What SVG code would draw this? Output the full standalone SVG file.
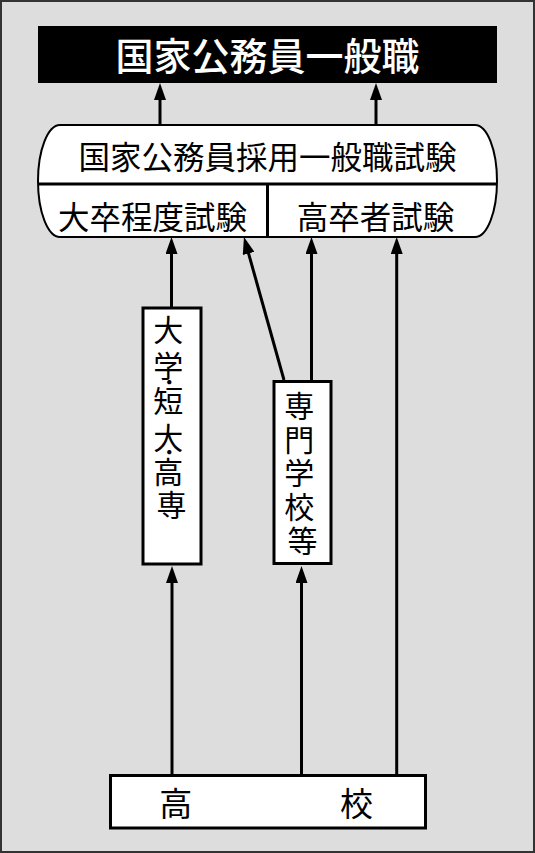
<svg xmlns="http://www.w3.org/2000/svg" width="535" height="853" viewBox="0 0 535 853">
  <style>
    .lbl { font-family: "Noto Sans CJK JP", "Noto Sans CJK SC", sans-serif; fill: #000; text-anchor: middle; }
    .box { fill: #fff; stroke: #000; stroke-width: 3; }
    .edge { stroke: #000; stroke-width: 3; fill: none; marker-end: url(#arrow); }
    .plain { stroke: #000; stroke-width: 3; fill: none; }
  </style>
  <defs>
    <marker id="arrow" markerUnits="userSpaceOnUse" markerWidth="17" markerHeight="12" refX="8" refY="6" orient="auto" viewBox="0 0 17 12">
      <path d="M0,0 L17,6 L0,12 Z" fill="#000"/>
    </marker>
  </defs>
  <rect x="1" y="1" width="533" height="851" fill="#dcdddc" stroke="#333" stroke-width="2"/>

  <g id="connectors">
    <line class="edge" x1="160" y1="125" x2="160" y2="92"/>
    <line class="edge" x1="376" y1="125" x2="376" y2="92"/>
    <line class="edge" x1="171.5" y1="307" x2="171.5" y2="246"/>
    <line class="edge" x1="284" y1="380" x2="246.4" y2="245.7"/>
    <line class="edge" x1="311.5" y1="380" x2="311.5" y2="246"/>
    <line class="edge" x1="396.7" y1="775" x2="396.7" y2="246"/>
    <line class="edge" x1="172" y1="775" x2="172" y2="575"/>
    <line class="edge" x1="301.5" y1="775" x2="301.5" y2="575"/>
  </g>

  <g id="title">
    <rect x="38" y="26" width="459" height="57" fill="#000"/>
    <text class="lbl" x="267.5" y="69.5" font-size="38" font-weight="500" style="fill:#fff">国家公務員一般職</text>
  </g>

  <g id="exam">
    <path d="M60,125 H475 A22,56 0 0 1 475,237 H60 A22,56 0 0 1 60,125 Z" fill="#fff" stroke="#000" stroke-width="2"/>
    <line class="plain" x1="38" y1="184" x2="497" y2="184" stroke-width="2"/>
    <line class="plain" x1="267.5" y1="184" x2="267.5" y2="237" stroke-width="2"/>
    <text class="lbl" x="267.5" y="169" font-size="31.5">国家公務員採用一般職試験</text>
    <text class="lbl" x="152.5" y="229" font-size="31.5">大卒程度試験</text>
    <text class="lbl" x="375.5" y="229" font-size="31.5">高卒者試験</text>
  </g>

  <g id="univ">
    <rect class="box" x="143" y="308" width="58" height="256"/>
    <text class="lbl" font-size="30">
      <tspan x="171.5" y="341.4">大</tspan>
      <tspan x="171.5" y="377.4">学</tspan>
      <tspan x="172.5" y="389.6" font-size="20">・</tspan>
      <tspan x="171.5" y="412.4">短</tspan>
      <tspan x="171.5" y="449.4">大</tspan>
      <tspan x="172.5" y="459.6" font-size="20">・</tspan>
      <tspan x="171.5" y="483.4">高</tspan>
      <tspan x="171.5" y="516.4">専</tspan>
    </text>
  </g>

  <g id="senmon">
    <rect class="box" x="274" y="381.5" width="57" height="182"/>
    <text class="lbl" font-size="30">
      <tspan x="302.5" y="417.4">専</tspan>
      <tspan x="302.5" y="451.4">門</tspan>
      <tspan x="302.5" y="484.4">学</tspan>
      <tspan x="302.5" y="518.4">校</tspan>
      <tspan x="302.5" y="552.4">等</tspan>
    </text>
  </g>

  <g id="koukou">
    <rect class="box" x="110.5" y="775.5" width="315" height="52.5"/>
    <text class="lbl" font-size="33">
      <tspan x="179.5" y="815.5">高</tspan>
      <tspan x="356.5" y="815.5">校</tspan>
    </text>
  </g>
</svg>
